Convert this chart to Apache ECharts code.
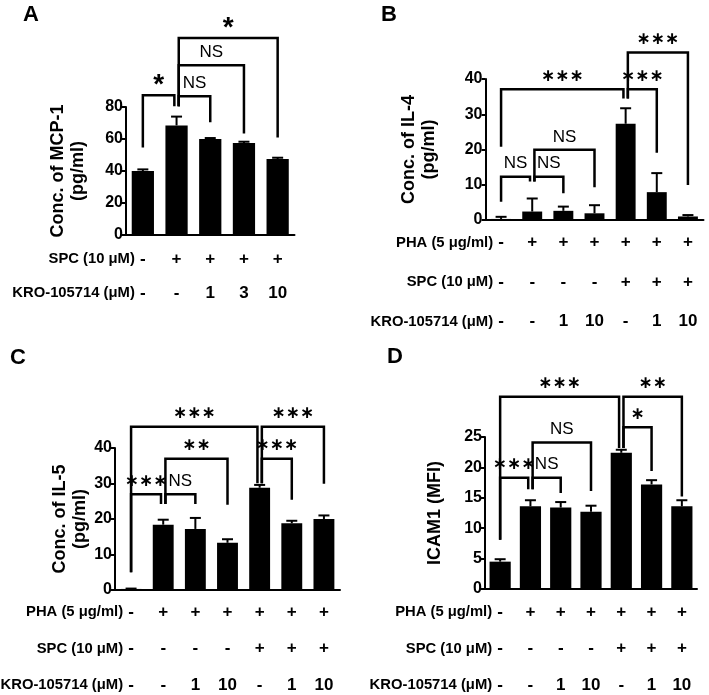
<!DOCTYPE html>
<html><head><meta charset="utf-8">
<script src="https://cdn.jsdelivr.net/npm/echarts@6/dist/echarts.min.js"></script>
<style>html,body{margin:0;padding:0;background:#fff}#c{width:709px;height:695px}</style>
</head><body><div id="c"></div>
<script>
// ---------- DATA ----------
// Panel A: MCP-1
const A_values = [40, 68.5, 60, 57.5, 47.5];
const A_upper  = [41, 74, 60.6, 58.3, 48.3];
const A_rowNames = ['SPC (10 μM)', 'KRO-105714 (μM)'];
const A_spc = ['-', '+', '+', '+', '+'];
const A_kro = ['-', '-', '1', '3', '10'];
const A_yTicks = [0, 20, 40, 60, 80];
// [from, to, level, leftEnd, rightEnd, label]
const A_brackets = [
  [0, 1, 87.3, 54.7, 80.4, '*'],
  [1, 2, 86.7, 80.4, 70.4, 'NS'],
  [1, 3, 106.1, 80.4, 63.5, 'NS'],
  [1, 4, 123.1, 80.4, 61, '*']
];

// Panel B: IL-4
const B_values = [0.3, 2.4, 2.6, 1.9, 27.3, 7.9, 1.0];
const B_upper  = [0.9, 6.1, 3.8, 4.2, 31.7, 13.3, 1.4];
const B_rowNames = ['PHA (5 μg/ml)', 'SPC (10 μM)', 'KRO-105714 (μM)'];
const B_pha = ['-', '+', '+', '+', '+', '+', '+'];
const B_spc = ['-', '-', '-', '-', '+', '+', '+'];
const B_kro = ['-', '-', '1', '10', '-', '1', '10'];
const B_yTicks = [0, 10, 20, 30, 40];
const B_brackets = [
  [0, 4, 37.1, 20.8, 34.5, '∗∗∗'],
  [4, 5, 37.1, 34.5, 19.1, '∗∗∗'],
  [4, 6, 47.5, 34.5, 9.9, '∗∗∗'],
  [0, 1, 12.3, 5.2, 10.9, 'NS'],
  [1, 2, 12.3, 10.9, 7.6, 'NS'],
  [1, 3, 19.9, 10.9, 9.3, 'NS']
];

// Panel C: IL-5
const C_values = [0.3, 18.4, 17.2, 13.3, 28.8, 18.8, 20.0];
const C_upper  = [0.4, 19.8, 20.3, 14.3, 29.6, 19.5, 21.0];
const C_rowNames = ['PHA (5 μg/ml)', 'SPC (10 μM)', 'KRO-105714 (μM)'];
const C_pha = ['-', '+', '+', '+', '+', '+', '+'];
const C_spc = ['-', '-', '-', '-', '+', '+', '+'];
const C_kro = ['-', '-', '1', '10', '-', '1', '10'];
const C_yTicks = [0, 10, 20, 30, 40];
const C_brackets = [
  [0, 4, 46.0, 5.0, 30.1, '∗∗∗'],
  [4, 6, 46.0, 30.1, 29.9, '∗∗∗'],
  [4, 5, 37.0, 30.1, 25.4, '∗∗∗'],
  [1, 3, 37.0, 24.2, 24.0, '∗∗'],
  [0, 1, 27.0, 5.0, 24.2, '∗∗∗'],
  [1, 2, 27.0, 24.2, 24.2, 'NS']
];

// Panel D: ICAM1
const D_values = [4.5, 13.6, 13.4, 12.7, 22.4, 17.2, 13.6];
const D_upper  = [4.9, 14.6, 14.3, 13.7, 22.9, 17.9, 14.6];
const D_rowNames = ['PHA (5 μg/ml)', 'SPC (10 μM)', 'KRO-105714 (μM)'];
const D_pha = ['-', '+', '+', '+', '+', '+', '+'];
const D_spc = ['-', '-', '-', '-', '+', '+', '+'];
const D_kro = ['-', '-', '1', '10', '-', '1', '10'];
const D_yTicks = [0, 5, 10, 15, 20, 25];
const D_brackets = [
  [0, 4, 31.6, 8.1, 23.2, '∗∗∗'],
  [4, 6, 31.6, 23.2, 15.2, '∗∗'],
  [4, 5, 26.6, 23.2, 19.4, '∗'],
  [1, 3, 24.1, 16.4, 16.1, 'NS'],
  [0, 1, 18.3, 8.1, 16.4, '∗∗∗'],
  [1, 2, 18.3, 16.4, 15.8, 'NS']
];

// ---------- LAYOUT ----------
const FONT = '"Liberation Sans", Arial, sans-serif';
const STAR_FONT = '"DejaVu Sans", sans-serif';
const panels = [
  { letter: 'A', letterPos: [23, 4], grid: { left: 126, top: 107, width: 168.5, height: 128 },
    values: A_values, upper: A_upper, rows: [A_spc, A_kro], rowNames: A_rowNames, ticks: A_yTicks,
    yName: 'Conc. of MCP-1\n(pg/ml)', nameGap: 38, barWidth: '66%', lineH: 34, margin: 7, brackets: A_brackets },
  { letter: 'B', letterPos: [381, 4], grid: { left: 485.5, top: 79, width: 218, height: 141 },
    values: B_values, upper: B_upper, rows: [B_pha, B_spc, B_kro], rowNames: B_rowNames, ticks: B_yTicks,
    yName: 'Conc. of IL-4\n(pg/ml)', nameGap: 46, barWidth: '64%', lineH: 39.5, margin: 3, brackets: B_brackets },
  { letter: 'C', letterPos: [10, 347], grid: { left: 115, top: 448, width: 225, height: 142 },
    values: C_values, upper: C_upper, rows: [C_pha, C_spc, C_kro], rowNames: C_rowNames, ticks: C_yTicks,
    yName: 'Conc. of IL-5\n(pg/ml)', nameGap: 25, barWidth: '65%', lineH: 36.5, margin: 4, brackets: C_brackets },
  { letter: 'D', letterPos: [387, 346], grid: { left: 485, top: 437, width: 212, height: 152 },
    values: D_values, upper: D_upper, rows: [D_pha, D_spc, D_kro], rowNames: D_rowNames, ticks: D_yTicks,
    yName: 'ICAM1 (MFI)', nameGap: 40, barWidth: '70%', lineH: 36.5, margin: 5, brackets: D_brackets }
];

const grids = [], xAxes = [], yAxes = [], series = [], graphics = [];

panels.forEach((p, k) => {
  const n = p.values.length;
  const cats = p.values.map((_, i) => String(i));
  const tmax = p.ticks[p.ticks.length - 1];
  const interval = p.ticks[1] - p.ticks[0];
  grids.push(Object.assign({ outerBoundsMode: 'none', containLabel: false }, p.grid));
  xAxes.push({
    type: 'category', gridIndex: k, data: cats,
    axisLine: { lineStyle: { color: '#000', width: 2 } },
    axisTick: { show: false },
    axisLabel: {
      interval: 0, margin: p.margin, lineHeight: p.lineH, hideOverlap: false,
      color: '#000', fontFamily: FONT, fontWeight: 'bold', fontSize: 17,
      formatter: (v) => p.rows.map(r => r[+v]).join('\n')
    }
  });
  yAxes.push({
    type: 'value', gridIndex: k, min: 0, max: tmax, interval: interval,
    name: p.yName, nameLocation: 'middle', nameGap: p.nameGap, nameRotate: 90,
    nameTextStyle: { color: '#000', fontFamily: FONT, fontWeight: 'bold', fontSize: 18, lineHeight: 20 },
    axisLine: { show: true, lineStyle: { color: '#000', width: 2 } },
    axisTick: { show: true, inside: false, length: 4, lineStyle: { color: '#000', width: 2 } },
    axisLabel: { color: '#000', fontFamily: FONT, fontWeight: 'bold', fontSize: 16, margin: 3 },
    splitLine: { show: false }
  });
  series.push({
    type: 'bar', xAxisIndex: k, yAxisIndex: k, data: p.values, barWidth: p.barWidth,
    itemStyle: { color: '#000' }, silent: true, animation: false
  });
  series.push({
    type: 'custom', xAxisIndex: k, yAxisIndex: k, animation: false, silent: true,
    data: p.values.map((v, i) => [i, v, p.upper[i]]),
    renderItem: (params, api) => {
      const b = api.coord([api.value(0), api.value(1)]);
      const t = api.coord([api.value(0), api.value(2)]);
      return { type: 'group', children: [
        { type: 'line', shape: { x1: b[0], y1: b[1], x2: t[0], y2: t[1] }, style: { stroke: '#000', lineWidth: 2 } },
        { type: 'line', shape: { x1: t[0] - 5.5, y1: t[1], x2: t[0] + 5.5, y2: t[1] }, style: { stroke: '#000', lineWidth: 2 } }
      ]};
    }
  });
  // bracket annotations
  const rightEnds = new Set(p.brackets.map(b => b[1]));
  const leftEnds = new Set(p.brackets.map(b => b[0]));
  series.push({
    type: 'custom', xAxisIndex: k, yAxisIndex: k, animation: false, silent: true, clip: false,
    data: p.brackets.map(b => [b[0], b[1], b[2], b[3], b[4]]),
    renderItem: (params, api) => {
      const f = api.value(0), t = api.value(1);
      const lvl = api.coord([f, api.value(2)])[1];
      const yl = api.coord([f, api.value(3)])[1];
      const yr = api.coord([t, api.value(4)])[1];
      let xl = api.coord([f, 0])[0];
      let xr = api.coord([t, 0])[0];
      if (rightEnds.has(f)) xl += 2.2;
      if (leftEnds.has(t)) xr -= 2.2;
      const label = p.brackets[params.dataIndex][5];
      const isNS = label === 'NS';
      const isAsciiStar = label.indexOf('*') >= 0;
      let font, dy;
      if (isNS) { font = '17px ' + FONT; dy = 13; }
      else if (isAsciiStar) { font = 'bold 28px ' + FONT; dy = 10; }
      else { font = 'bold 17px ' + STAR_FONT; dy = 13; }
      return { type: 'group', children: [
        { type: 'polyline', shape: { points: [[xl, yl], [xl, lvl], [xr, lvl], [xr, yr]] },
          style: { stroke: '#000', lineWidth: 2.5, fill: null, lineJoin: 'miter' } },
        { type: 'text', style: { text: label, x: (xl + xr) / 2, y: lvl - dy, align: 'center',
          verticalAlign: 'middle', font: font, fill: '#000' } }
      ]};
    }
  });
  // panel letter
  graphics.push({ type: 'text', left: p.letterPos[0], top: p.letterPos[1],
    style: { text: p.letter, font: 'bold 22px ' + FONT, fill: '#000' } });
  // row names
  const band = p.grid.width / n;
  const xr = p.grid.left + band / 2 - 8;
  const y0 = p.grid.top + p.grid.height + p.margin + p.lineH / 2;
  p.rowNames.forEach((name, r) => {
    graphics.push({ type: 'text', x: xr, y: y0 + r * p.lineH,
      style: { text: name, font: 'bold 14.8px ' + FONT, fill: '#000', align: 'right', verticalAlign: 'middle' } });
  });
});

const chart = echarts.init(document.getElementById('c'), null, { renderer: 'canvas' });
chart.setOption({
  animation: false,
  backgroundColor: '#fff',
  grid: grids, xAxis: xAxes, yAxis: yAxes, series: series, graphic: graphics
});
</script></body></html>
